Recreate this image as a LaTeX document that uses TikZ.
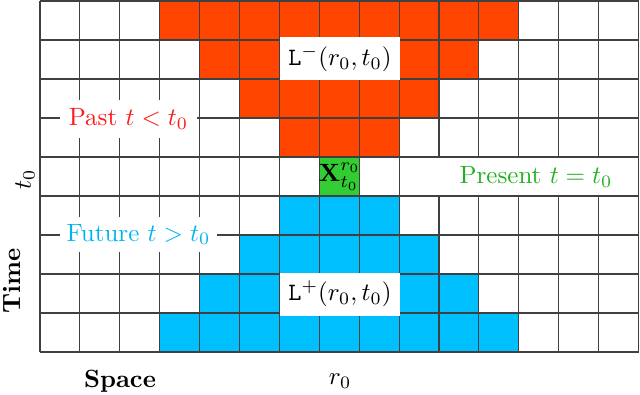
\documentclass[tikz,border=0pt]{standalone}
\usepackage{amsmath}
\definecolor{conered}{HTML}{FF4500}
\definecolor{coneblue}{HTML}{00BFFF}
\definecolor{conegreen}{HTML}{33CC33}
\definecolor{pasttext}{HTML}{FF1A1A}
\definecolor{futuretext}{HTML}{00B4F0}
\definecolor{presenttext}{HTML}{22B022}
\tikzset{
  gridline/.style={draw=black!75, line width=0.45pt},
  lbl/.style={inner sep=0pt, anchor=center},
}
\begin{document}
\begin{tikzpicture}[x=0.4pt,y=-0.4pt]
\useasboundingbox (0,0) rectangle (640,394);
% past cone
\foreach \rr in {0,...,3}{
  \pgfmathtruncatemacro{\ca}{3+\rr}
  \pgfmathtruncatemacro{\cb}{11-\rr}
  \foreach \cc in {\ca,...,\cb}{
    \fill[conered] ({40+39.9*\cc},{1+39*\rr}) rectangle ++(39.9,39);
  }
}
% future cone
\foreach \rr in {5,...,8}{
  \pgfmathtruncatemacro{\ca}{11-\rr}
  \pgfmathtruncatemacro{\cb}{3+\rr}
  \foreach \cc in {\ca,...,\cb}{
    \fill[coneblue] ({40+39.9*\cc},{1+39*\rr}) rectangle ++(39.9,39);
  }
}
% present cell
\fill[conegreen] ({40+39.9*7},{1+39*4}) rectangle ++(39.9,39);
% grid
\foreach \cc in {0,...,15}{
  \draw[gridline] ({40+39.9*\cc},1) -- ({40+39.9*\cc},352);
}
\foreach \rr in {0,...,9}{
  \draw[gridline] (40,{1+39*\rr}) -- (638.5,{1+39*\rr});
}
% white label boxes
\fill[white] (280,37) rectangle (400,80);
\fill[white] (280,272.5) rectangle (400,316);
\fill[white] (60,100) rectangle (197,138);
\fill[white] (60,217) rectangle (217,252);
\fill[white] (401,158.2) rectangle (638,194.8);
% labels
\node[lbl] (lminus) at (340,58.5) {$\mathtt{L}^-(r_0,t_0)$};
\node[lbl] (lplus) at (340,294) {$\mathtt{L}^+(r_0,t_0)$};
\node[lbl, text=pasttext] (past) at (128.5,119) {Past $t<t_0$};
\node[lbl, text=futuretext] (future) at (138.5,234.5) {Future $t>t_0$};
\node[lbl, text=presenttext] (present) at (536,177) {Present $t=t_0$};
\node[lbl] (x) at (339.7,176.5) {$\mathbf{X}_{t_0}^{r_0}$};
\node[lbl, rotate=90] (t0) at (25,179) {$t_0$};
\node[lbl, rotate=90] (time) at (12,281) {\textbf{Time}};
\node[lbl] (space) at (120,381) {\textbf{Space}};
\node[lbl] (r0) at (340,381) {$r_0$};
\end{tikzpicture}
\end{document}
